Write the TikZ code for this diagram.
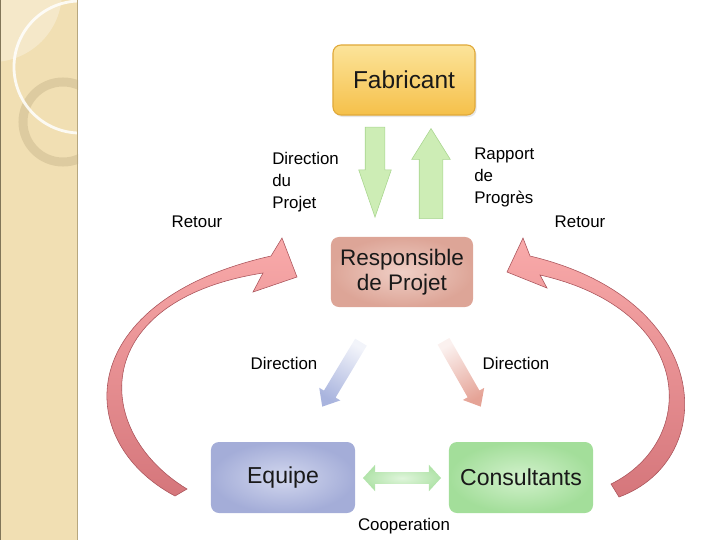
\documentclass[tikz,border=0pt]{standalone}
\usepackage{fontspec}
\setmainfont{Liberation Sans}
\usepackage{tikz}
\usetikzlibrary{positioning,shapes.arrows,shadows}

\definecolor{stripbeige}{HTML}{F1DFB3}
\definecolor{stripring}{HTML}{D9C79C}
\definecolor{stripedge}{HTML}{B8A77E}
\definecolor{fabtop}{HTML}{FCE49A}
\definecolor{fabbot}{HTML}{F5C04A}
\definecolor{fabline}{HTML}{E0A93A}
\definecolor{respin}{HTML}{EFCFC6}
\definecolor{respout}{HTML}{DDA597}
\definecolor{eqin}{HTML}{D2D7EE}
\definecolor{eqout}{HTML}{A4ADD8}
\definecolor{conin}{HTML}{D2F1CC}
\definecolor{conout}{HTML}{A3DE9A}
\definecolor{upgreen}{HTML}{CDEDB5}
\definecolor{upgreenline}{HTML}{A8D58E}
\definecolor{retourtop}{HTML}{F9AAAA}
\definecolor{retourbot}{HTML}{D5767B}
\definecolor{retourline}{HTML}{A9535A}
\definecolor{dirblue}{HTML}{A9B4DE}
\definecolor{dirred}{HTML}{E5A396}

\begin{document}
\begin{tikzpicture}[x=0.025cm, y=-0.025cm,
	box/.style={rectangle, rounded corners=0.2cm, inner sep=0pt, minimum width=3.55cm, minimum height=1.75cm, align=center, text=black!90},
	lbl/.style={inner sep=0pt, align=left, font=\fontsize{12}{15.6}\selectfont},
	flowarrow/.style={single arrow, inner xsep=0pt, minimum height=2.25cm, anchor=tip, fill=upgreen, draw=upgreenline, line width=0.4pt},
	slantarrow/.style={single arrow, inner xsep=0pt, inner ysep=0.1625cm, minimum height=1.88cm, single arrow head extend=0.1375cm, single arrow tip angle=80, anchor=tip},
	retour/.style={top color=retourtop, bottom color=retourbot, draw=retourline, line width=0.4pt}]
	
	\useasboundingbox (0,0) rectangle (720,540);
	
	% bande decorative
	\begin{scope}
		\clip (0,0) rectangle (78,540);
		\fill[stripbeige] (0,0) rectangle (78,540);
		\fill[white, opacity=0.3] (-8,-8) circle (1.75cm);
		\draw[stripring, line width=0.225cm, opacity=0.8] (63,122) circle (1cm);
		\draw[white, line width=0.07cm, opacity=0.85] (80,67) circle (1.65cm);
	\end{scope}
	\draw[stripedge, line width=1.2pt] (77.5,0) -- (77.5,540);
	\draw[stripedge!70!black, line width=0.8pt] (0.3,0) -- (0.3,540);
	
	% boites
	\node[box, top color=fabtop, bottom color=fabbot, draw=fabline, line width=0.8pt, drop shadow={opacity=0.2, shadow xshift=0.04cm, shadow yshift=-0.05cm}, font=\fontsize{17.4}{20}\selectfont] (fab) at (404,80) {Fabricant};
	\node[box, shading=radial, inner color=respin, outer color=respout, font=\fontsize{16}{17.8}\selectfont] (resp) at (402,272) {Responsible\\de Projet};
	\node[box, minimum width=3.6cm, minimum height=1.775cm, shading=radial, inner color=eqin, outer color=eqout, font=\fontsize{16.4}{19}\selectfont] (equipe) at (283,477.5) {Equipe};
	\node[box, minimum width=3.6cm, minimum height=1.775cm, shading=radial, inner color=conin, outer color=conout, font=\fontsize{16.4}{19}\selectfont] (consult) at (521,477.5) {Consultants};
	
	% fleches
	\node[flowarrow, rotate=-90, inner ysep=0.2375cm, single arrow head extend=0.1625cm, single arrow tip angle=38] (godown) at (375,218) {};
	\node[flowarrow, rotate=90, inner ysep=0.2875cm, single arrow head extend=0.1875cm, single arrow tip angle=64] (goup) at (431,128) {};
	\node[slantarrow, rotate=239, top color=dirblue!15, bottom color=dirblue, shading angle=-31] (todir) at (322,407) {};
	\node[slantarrow, rotate=-60.3, top color=dirred!15, bottom color=dirred, shading angle=29.7] (tocons) at (481,407) {};
	\node[double arrow, inner xsep=0pt, inner ysep=0.1375cm, minimum height=1.95cm, double arrow head extend=0.1875cm, double arrow tip angle=95, shading=radial, inner color=conin!70, outer color=conout!85] (coop) at (402,478) {};
	
	\path[retour] (175,496) .. controls (70,440) and (75,300) .. (271,256)
		-- (282,238) -- (297,277) -- (253,292) -- (263,273)
		.. controls (90,300) and (90,430) .. (187,489) -- cycle;
	\path[retour] (619,497) .. controls (720,460) and (715,300) .. (530,256)
		-- (523,238) -- (507,272) -- (547,288) -- (540,275)
		.. controls (695,310) and (700,440) .. (611,484) -- cycle;
	
	% textes
	\node[lbl, anchor=west] (dirprojet) at (272,182) {Direction\\du\\Projet};
	\node[lbl, anchor=west] (rapport) at (474,177.5) {Rapport\\de\\Progrès};
	\node[lbl] (retourg) at (197,222) {Retour};
	\node[lbl] (retourd) at (580,222) {Retour};
	\node[lbl] (dirg) at (284,363) {Direction};
	\node[lbl] (dird) at (516,363) {Direction};
	\node[lbl] (cooplbl) at (404,526) {Cooperation};
\end{tikzpicture}
\end{document}
